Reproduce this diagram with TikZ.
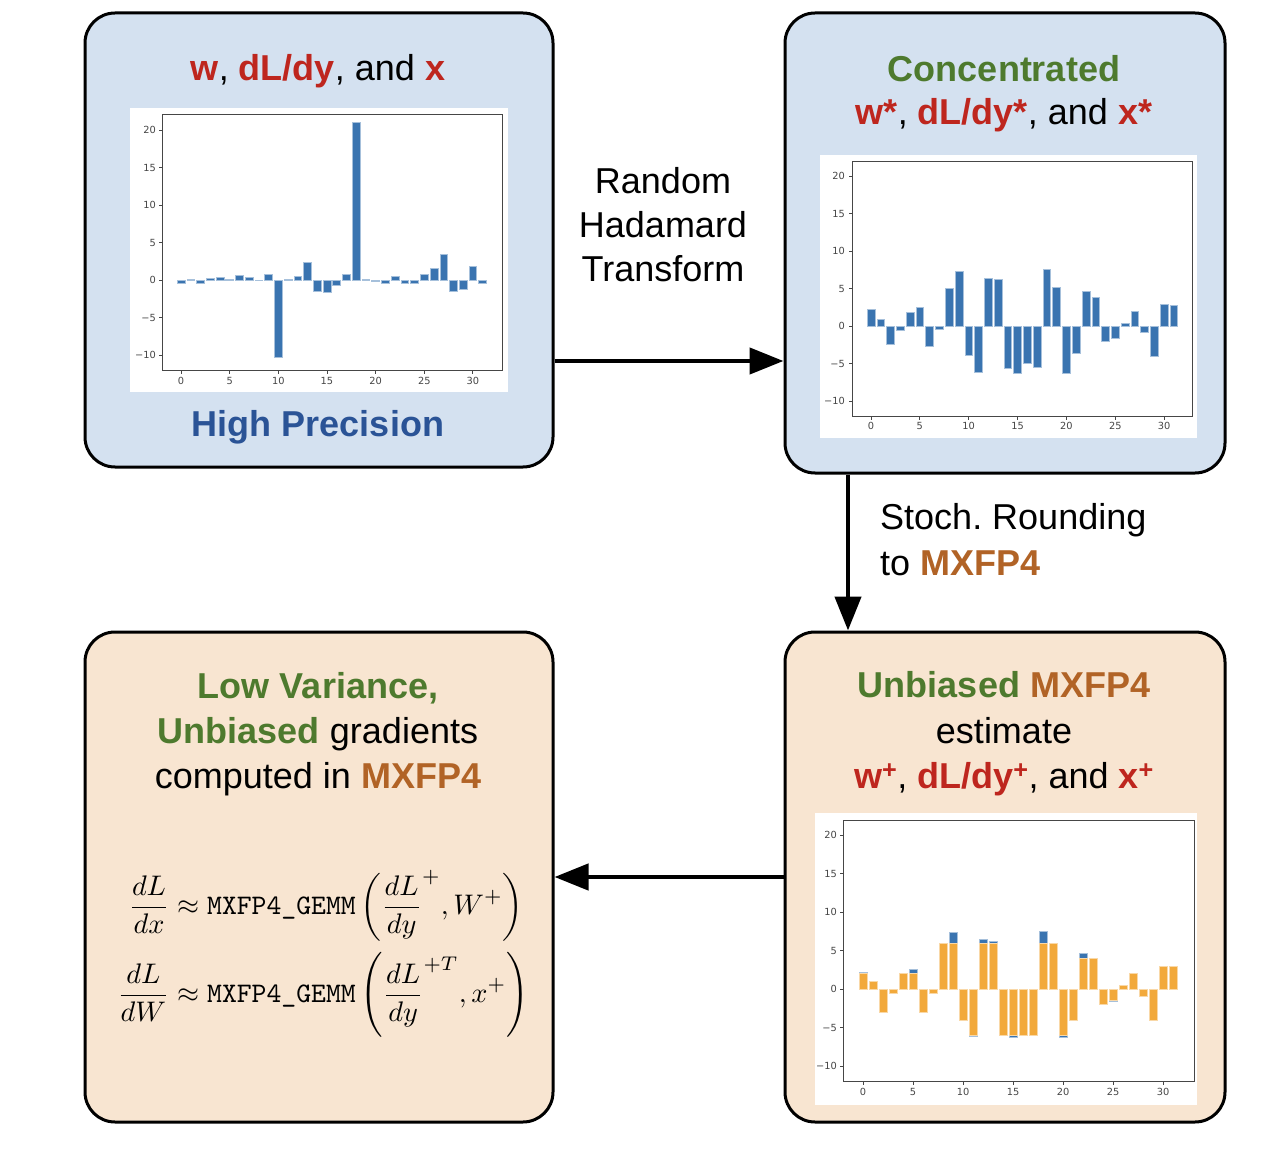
\documentclass[tikz,border=0pt]{standalone}
\usepackage{amsmath}
\usepackage{fontspec}
\newfontfamily\arialf{Liberation Sans}
\newfontfamily\dvs{DejaVu Sans}
\usetikzlibrary{arrows.meta}
\frenchspacing
\definecolor{boxblue}{RGB}{212,225,240}
\definecolor{boxpeach}{RGB}{248,229,209}
\definecolor{tred}{RGB}{190,38,30}
\definecolor{tgreen}{RGB}{78,122,46}
\definecolor{torange}{RGB}{177,99,38}
\definecolor{tblue}{RGB}{42,83,150}
\definecolor{barblue}{RGB}{58,116,176}
\definecolor{barorange}{RGB}{242,169,59}
\definecolor{axgray}{RGB}{70,70,70}
\newcommand\redb[1]{\textbf{\color{tred}#1}}
\newcommand\grnb[1]{\textbf{\color{tgreen}#1}}
\newcommand\orgb[1]{\textbf{\color{torange}#1}}
\tikzset{
  panel/.style={draw=black, line width=3pt, rounded corners=30pt, inner sep=0pt},
  bigtxt/.style={font=\arialf\fontsize{36}{44}\selectfont, inner sep=0pt, anchor=base},
  conn/.style={line width=4.5pt, -{Triangle[length=34pt,width=26pt]}},
  axisln/.style={draw=axgray, line width=0.9pt},
  ticklab/.style={font=\dvs\fontsize{9.8}{11}\selectfont, text=axgray, inner sep=0pt},
  bbar/.style={fill=barblue, draw=barblue!45!white, line width=0.6pt},
  obar/.style={fill=barorange, draw=barorange!45!white, line width=0.6pt}
}
\begin{document}
\begin{tikzpicture}[x=1pt,y=-1pt]
\useasboundingbox (0,0) rectangle (1288,1150);
\fill[white] (0,0) rectangle (1288,1150);

% panels
\node[panel, fill=boxblue, minimum width=468pt, minimum height=454pt] (b1) at (319,240) {};
\node[panel, fill=boxblue, minimum width=440pt, minimum height=460pt] (b2) at (1005,243) {};
\node[panel, fill=boxpeach, minimum width=440pt, minimum height=490pt] (b3) at (1005,877) {};
\node[panel, fill=boxpeach, minimum width=468pt, minimum height=490pt] (b4) at (319,877) {};

% connectors
\coordinate (a1) at (0,361);
\coordinate (a2) at (848,0);
\draw[conn] (b1.east |- a1) -- (b2.west |- a1);
\draw[conn] (b2.south -| a2) -- (b3.north -| a2);
\draw[conn] (b3.west) -- (b4.east);

% texts
\node[bigtxt] (t1) at (318,81) {\redb{w}, \redb{dL/dy}, and \redb{x}};
\node[bigtxt] (t2) at (318,436) {\textbf{\color{tblue}High Precision}};
\node[bigtxt] (t3) at (1004,82) {\grnb{Concentrated}};
\node[bigtxt] (t4) at (1004,125) {\redb{w*}, \redb{dL/dy*}, and \redb{x*}};
\node[bigtxt] (r1) at (663,194) {Random};
\node[bigtxt] (r2) at (663,238) {Hadamard};
\node[bigtxt] (r3) at (663,282) {Transform};
\node[bigtxt, anchor=base west] (s1) at (880,529) {Stoch. Rounding};
\node[bigtxt, anchor=base west] (s2) at (880,575) {to \orgb{MXFP4}};
\node[bigtxt] (u1) at (1004,697) {\grnb{Unbiased} \orgb{MXFP4}};
\node[bigtxt] (u2) at (1004,743) {estimate};
\node[bigtxt] (u3) at (1004,788) {\redb{w\textsuperscript{+}}, \redb{dL/dy\textsuperscript{+}}, and \redb{x\textsuperscript{+}}};
\node[bigtxt] (l1) at (318,698) {\grnb{Low Variance,}};
\node[bigtxt] (l2) at (318,743) {\grnb{Unbiased} gradients};
\node[bigtxt] (l3) at (318,788) {computed in \orgb{MXFP4}};

% equations
\node[scale=2.83, inner sep=0pt] (eq) at (323,954) {$\begin{aligned}
\frac{dL}{dx} &\approx \texttt{MXFP4\_GEMM}\left(\frac{dL}{dy}^{+}, W^{+}\right)\\
\frac{dL}{dW} &\approx \texttt{MXFP4\_GEMM}\left(\frac{dL}{dy}^{+T}, x^{+}\right)
\end{aligned}$};

% ---------- chart 1 ----------
\fill[white] (130,108) rectangle (508,392);
\def\xo{181}\def\yo{280}\def\sx{9.73}\def\sy{7.5}
\foreach \v [count=\i from 0] in {-0.5,0.05,-0.4,0.2,0.4,0.1,0.6,0.4,-0.1,0.8,-10.3,0.05,0.5,2.3,-1.5,-1.6,-0.7,0.8,21,0.15,-0.2,-0.4,0.5,-0.4,-0.4,0.7,1.5,3.4,-1.5,-1.2,1.8,-0.5}
  \path[bbar] ({\xo+(\i-0.4)*\sx},\yo) rectangle ({\xo+(\i+0.4)*\sx},{\yo-(\v)*\sy});
\draw[axisln] (162,114) rectangle (502,370);
\foreach \t/\lab [count=\k] in {-10/−10,-5/−5,0/0,5/5,10/10,15/15,20/20}{
  \draw[axisln] (162,{\yo-(\t)*\sy}) -- ++(-3.5,0);
  \node[ticklab, anchor=east] (c1y\k) at (156,{\yo-(\t)*\sy}) {\lab};}
\foreach \t [count=\k] in {0,5,...,30}{
  \draw[axisln] ({\xo+\t*\sx},370) -- ++(0,3.5);
  \node[ticklab, anchor=north] (c1x\k) at ({\xo+\t*\sx},377) {\t};}

% ---------- chart 2 ----------
\fill[white] (820,155) rectangle (1197,438);
\def\xo{871}\def\yo{326}\def\sx{9.77}\def\sy{7.5}
\foreach \v [count=\i from 0] in {2.2,0.9,-2.5,-0.6,1.8,2.5,-2.7,-0.5,5.0,7.3,-3.9,-6.2,6.4,6.2,-5.7,-6.3,-5.0,-5.5,7.5,5.1,-6.3,-3.7,4.6,3.8,-2.0,-1.6,0.4,2.0,-0.9,-4.0,2.9,2.7}
  \path[bbar] ({\xo+(\i-0.4)*\sx},\yo) rectangle ({\xo+(\i+0.4)*\sx},{\yo-(\v)*\sy});
\draw[axisln] (852,161) rectangle (1192,416);
\foreach \t/\lab [count=\k] in {-10/−10,-5/−5,0/0,5/5,10/10,15/15,20/20}{
  \draw[axisln] (852,{\yo-(\t)*\sy}) -- ++(-3.5,0);
  \node[ticklab, anchor=east] (c2y\k) at (845,{\yo-(\t)*\sy}) {\lab};}
\foreach \t [count=\k] in {0,5,...,30}{
  \draw[axisln] ({\xo+\t*\sx},416) -- ++(0,3.5);
  \node[ticklab, anchor=north] (c2x\k) at ({\xo+\t*\sx},422) {\t};}

% ---------- chart 3 ----------
\fill[white] (815,813) rectangle (1197,1105);
\def\xo{863}\def\yo{989}\def\sx{10}\def\sy{7.7}
\foreach \v [count=\i from 0] in {2.2,0.9,-2.5,-0.6,1.8,2.5,-2.7,-0.5,5.0,7.3,-3.9,-6.2,6.4,6.2,-5.7,-6.3,-5.0,-5.5,7.5,5.1,-6.3,-3.7,4.6,3.8,-2.05,-1.6,0.4,2.05,-0.9,-4.05,2.9,2.7}
  \path[bbar] ({\xo+(\i-0.4)*\sx},\yo) rectangle ({\xo+(\i+0.4)*\sx},{\yo-(\v)*\sy});
\foreach \v [count=\i from 0] in {2,1,-3,-0.5,2,2,-3,-0.5,6,6,-4,-6,6,6,-6,-6,-6,-6,6,6,-6,-4,4,4,-2,-1.5,0.5,2,-1,-4,3,3}
  \path[obar] ({\xo+(\i-0.4)*\sx},\yo) rectangle ({\xo+(\i+0.4)*\sx},{\yo-(\v)*\sy});
\draw[axisln] (843,820) rectangle (1194,1081);
\foreach \t/\lab [count=\k] in {-10/−10,-5/−5,0/0,5/5,10/10,15/15,20/20}{
  \draw[axisln] (843,{\yo-(\t)*\sy}) -- ++(-3.5,0);
  \node[ticklab, anchor=east] (c3y\k) at (837,{\yo-(\t)*\sy}) {\lab};}
\foreach \t [count=\k] in {0,5,...,30}{
  \draw[axisln] ({\xo+\t*\sx},1081) -- ++(0,3.5);
  \node[ticklab, anchor=north] (c3x\k) at ({\xo+\t*\sx},1088) {\t};}
\end{tikzpicture}
\end{document}
